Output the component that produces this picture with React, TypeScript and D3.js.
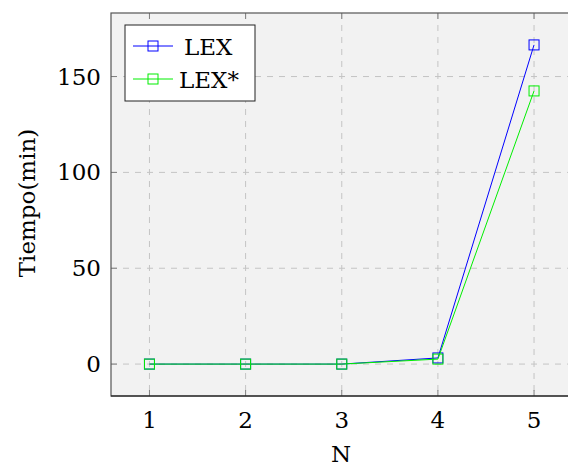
import React, { useRef, useEffect } from "react";
import * as d3 from "d3";

const nValues = [1, 2, 3, 4, 5];
const lexTimes = [0, 0, 0, 3.2, 166.5];
const lexStarTimes = [0, 0, 0, 2.6, 142.5];
const yTicks = [0, 50, 100, 150];
const seriesNames = ["LEX", "LEX*"];
const seriesColors = ["#0000ff", "#00ee00"];

const W = 568;
const H = 468;
const FONT = "DejaVu Serif";
const FS = 23;

const App = () => {
  const svgRef = useRef<SVGSVGElement>(null);

  useEffect(() => {
    const svg = d3.select(svgRef.current);
    svg.selectAll("*").remove();

    // plot frame (right side runs off the page like the original)
    const left = 111;
    const top = 13;
    const bottom = 396;
    const right = 572.5;

    // pgfplots-style enlarged limits
    const x = d3.scaleLinear().domain([0.6, 5.4]).range([left, right]);
    const y = d3.scaleLinear().domain([-16.65, 183.15]).range([bottom, top]);

    svg
      .append("rect")
      .attr("x", left)
      .attr("y", top)
      .attr("width", right - left)
      .attr("height", bottom - top)
      .attr("fill", "#f2f2f2");

    // dashed grid
    const grid = svg.append("g").attr("stroke", "#c4c4c4").attr("stroke-dasharray", "6,6");
    nValues.forEach((n) => {
      grid.append("line").attr("x1", x(n)).attr("x2", x(n)).attr("y1", top).attr("y2", bottom);
    });
    yTicks.forEach((t) => {
      grid.append("line").attr("x1", left).attr("x2", right).attr("y1", y(t)).attr("y2", y(t));
    });

    // inward ticks
    const ticks = svg.append("g").attr("stroke", "#808080");
    nValues.forEach((n) => {
      ticks.append("line").attr("x1", x(n)).attr("x2", x(n)).attr("y1", bottom).attr("y2", bottom - 6);
      ticks.append("line").attr("x1", x(n)).attr("x2", x(n)).attr("y1", top).attr("y2", top + 6);
    });
    yTicks.forEach((t) => {
      ticks.append("line").attr("x1", left).attr("x2", left + 6).attr("y1", y(t)).attr("y2", y(t));
    });

    svg
      .append("rect")
      .attr("x", left)
      .attr("y", top)
      .attr("width", right - left)
      .attr("height", bottom - top)
      .attr("fill", "none")
      .attr("stroke", "#555")
      .attr("stroke-width", 1.2);
    svg
      .append("line")
      .attr("x1", left)
      .attr("x2", right)
      .attr("y1", bottom)
      .attr("y2", bottom)
      .attr("stroke", "#111")
      .attr("stroke-width", 1.2);

    // tick labels
    svg
      .append("g")
      .selectAll("text")
      .data(nValues)
      .join("text")
      .attr("x", (d) => x(d))
      .attr("y", 428)
      .attr("text-anchor", "middle")
      .style("font-family", FONT)
      .style("font-size", FS + "px")
      .text((d) => d);
    svg
      .append("g")
      .selectAll("text")
      .data(yTicks)
      .join("text")
      .attr("x", 101)
      .attr("y", (d) => y(d) + 8)
      .attr("text-anchor", "end")
      .style("font-family", FONT)
      .style("font-size", FS + "px")
      .text((d) => d);

    svg
      .append("text")
      .attr("x", 341)
      .attr("y", 462)
      .attr("text-anchor", "middle")
      .style("font-family", FONT)
      .style("font-size", FS + "px")
      .text("N");
    svg
      .append("text")
      .attr("transform", "translate(35,203) rotate(-90)")
      .attr("text-anchor", "middle")
      .style("font-family", FONT)
      .style("font-size", FS + "px")
      .text("Tiempo(min)");

    // series
    const lineGen = d3
      .line<number>()
      .x((_, i) => x(nValues[i]))
      .y((d) => y(d));

    [lexTimes, lexStarTimes].forEach((vals, si) => {
      const g = svg.append("g");
      g.append("path")
        .attr("d", lineGen(vals))
        .attr("fill", "none")
        .attr("stroke", seriesColors[si])
        .attr("stroke-width", 1);
      g.selectAll("rect")
        .data(vals)
        .join("rect")
        .attr("x", (_, i) => x(nValues[i]) - 5)
        .attr("y", (d) => y(d) - 5)
        .attr("width", 10)
        .attr("height", 10)
        .attr("fill", "none")
        .attr("stroke", seriesColors[si])
        .attr("stroke-width", 1);
    });

    // legend
    const lg = svg.append("g");
    lg.append("rect")
      .attr("x", 125)
      .attr("y", 25)
      .attr("width", 130)
      .attr("height", 76)
      .attr("fill", "#fff")
      .attr("stroke", "#222")
      .attr("stroke-width", 1);
    seriesNames.forEach((name, i) => {
      const cy = 46 + i * 33;
      lg.append("line")
        .attr("x1", 133)
        .attr("x2", 173)
        .attr("y1", cy)
        .attr("y2", cy)
        .attr("stroke", seriesColors[i]);
      lg.append("rect")
        .attr("x", 148)
        .attr("y", cy - 5)
        .attr("width", 10)
        .attr("height", 10)
        .attr("fill", "none")
        .attr("stroke", seriesColors[i]);
      lg.append("text")
        .attr("x", i === 0 ? 184 : 179)
        .attr("y", cy + 8.5)
        .style("font-family", FONT)
        .style("font-size", FS + "px")
        .text(name);
    });
  }, []);

  return (
    <svg
      ref={svgRef}
      width={W}
      height={H}
      style={{ position: "absolute", left: 0, top: 0, background: "#fff" }}
    />
  );
};

export default App;
